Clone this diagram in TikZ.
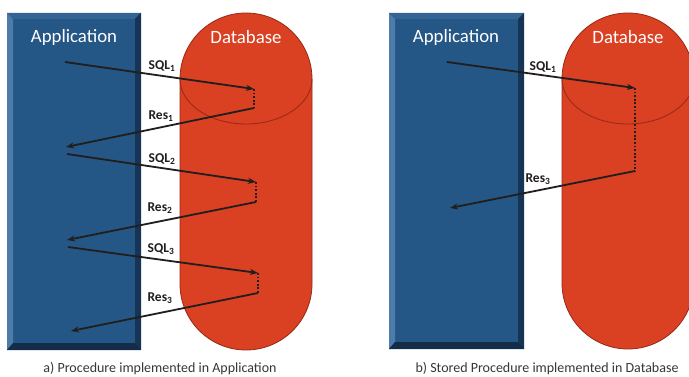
\documentclass[tikz,border=0pt]{standalone}
\usepackage{fontspec}
\setmainfont{Carlito}
\usetikzlibrary{arrows.meta}
\definecolor{appblue}{RGB}{36,86,134}
\definecolor{appblueL}{RGB}{78,124,170}
\definecolor{appblueM}{RGB}{52,100,148}
\definecolor{appblueD}{RGB}{22,52,86}
\definecolor{appblueDD}{RGB}{18,44,74}
\definecolor{dbred}{RGB}{218,64,34}
\definecolor{dbedge}{RGB}{150,40,22}
\definecolor{arrowc}{RGB}{34,30,30}
\definecolor{capc}{RGB}{55,55,55}
\tikzset{
  hdr/.style={text=white, font=\fontsize{18.8}{21}\selectfont, inner sep=0pt},
  lbl/.style={text=arrowc, font=\fontsize{13.5}{15}\selectfont\bfseries, inner sep=0pt},
  captiontext/.style={text=capc, font=\fontsize{14}{16}\selectfont, inner sep=0pt},
  flow/.style={draw=arrowc, line width=1.8pt, -{Stealth[length=8pt,width=6pt]}},
  dots/.style={draw=arrowc, line width=1.8pt, dash pattern=on 1.8pt off 1.8pt},
  capsule/.style={fill=dbred, draw=dbedge, line width=0.8pt},
  rim/.style={draw=dbedge, line width=0.8pt}
}
\newcommand{\appbox}[4]{% x1 y1 x2 y2
  \fill[appblue] (#1,#2) rectangle (#3,#4);
  \fill[appblueL] (#1,#2) -- (#1+6,#2+6) -- (#1+6,#4-7) -- (#1,#4) -- cycle;
  \fill[appblueM] (#1,#2) -- (#3,#2) -- (#3-6,#2+6) -- (#1+6,#2+6) -- cycle;
  \fill[appblueD] (#3,#2) -- (#3,#4) -- (#3-6,#4-7) -- (#3-6,#2+6) -- cycle;
  \fill[appblueDD] (#1,#4) -- (#3,#4) -- (#3-6,#4-7) -- (#1+6,#4-7) -- cycle;
}
\begin{document}
\begin{tikzpicture}[x=1pt,y=-1pt]
\useasboundingbox (0,0) rectangle (689,377);
\fill[white] (0,0) rectangle (689,377);
\begin{scope}
\clip (0,0) rectangle (689,377);
% ---------- panel a ----------
\appbox{7}{13}{141}{350}
\node[minimum width=134pt, minimum height=337pt, inner sep=0pt] (appA) at (74,181.5) {};
\path[capsule] (180,79) arc[start angle=180, end angle=360, radius=66]
  -- (312,284) arc[start angle=0, end angle=180, radius=66] -- cycle;
\node[minimum width=132pt, minimum height=337pt, inner sep=0pt] (dbA) at (246,181.5) {};
\draw[rim] (180,79) arc[start angle=180, end angle=0, x radius=66, y radius=45];
\node[hdr] (appAt) at (74,37) {Application};
\node[hdr] (dbAt) at (246,37) {Database};

\coordinate (a1s) at (65,62);   \coordinate (a1e) at (254,89);
\coordinate (a1r) at (254,108); \coordinate (a1b) at (66,147);
\coordinate (a2s) at (67,154);  \coordinate (a2e) at (256,182);
\coordinate (a2r) at (256,202); \coordinate (a2b) at (67,240);
\coordinate (a3s) at (68,247);  \coordinate (a3e) at (258,273);
\coordinate (a3r) at (258,293); \coordinate (a3b) at (71,331);

\draw[flow] (a1s) -- (a1e);
\draw[dots] (a1e) -- (a1r);
\draw[flow] (a1r) -- (a1b);
\draw[flow] (a2s) -- (a2e);
\draw[dots] (a2e) -- (a2r);
\draw[flow] (a2r) -- (a2b);
\draw[flow] (a3s) -- (a3e);
\draw[dots] (a3e) -- (a3r);
\draw[flow] (a3r) -- (a3b);

\node[lbl] (lq1) at (162,66) {SQL\textsubscript{1}};
\node[lbl] (lr1) at (161,116) {Res\textsubscript{1}};
\node[lbl] (lq2) at (162,159) {SQL\textsubscript{2}};
\node[lbl] (lr2) at (160,208) {Res\textsubscript{2}};
\node[lbl] (lq3) at (161,249) {SQL\textsubscript{3}};
\node[lbl] (lr3) at (160,298) {Res\textsubscript{3}};

\node[captiontext] (capA) at (160,369) {a) Procedure implemented in Application};

% ---------- panel b ----------
\appbox{389}{13}{524}{349}
\node[minimum width=135pt, minimum height=336pt, inner sep=0pt] (appB) at (456.5,181) {};
\path[capsule] (562,79) arc[start angle=180, end angle=360, radius=66]
  -- (694,283) arc[start angle=0, end angle=180, radius=66] -- cycle;
\node[minimum width=132pt, minimum height=336pt, inner sep=0pt] (dbB) at (628,181) {};
\draw[rim] (562,79) arc[start angle=180, end angle=0, x radius=66, y radius=45];
\node[hdr] (appBt) at (456,37) {Application};
\node[hdr] (dbBt) at (628,37) {Database};

\coordinate (b1s) at (447,62);  \coordinate (b1e) at (635,88);
\coordinate (b1r) at (635,171); \coordinate (b1b) at (450,208);
\draw[flow] (b1s) -- (b1e);
\draw[dots] (b1e) -- (b1r);
\draw[flow] (b1r) -- (b1b);
\node[lbl] (lbq1) at (543,67) {SQL\textsubscript{1}};
\node[lbl] (lbr3) at (538,179) {Res\textsubscript{3}};

\node[captiontext] (capB) at (547,369) {b) Stored Procedure implemented in Database};
\end{scope}
\end{tikzpicture}
\end{document}
